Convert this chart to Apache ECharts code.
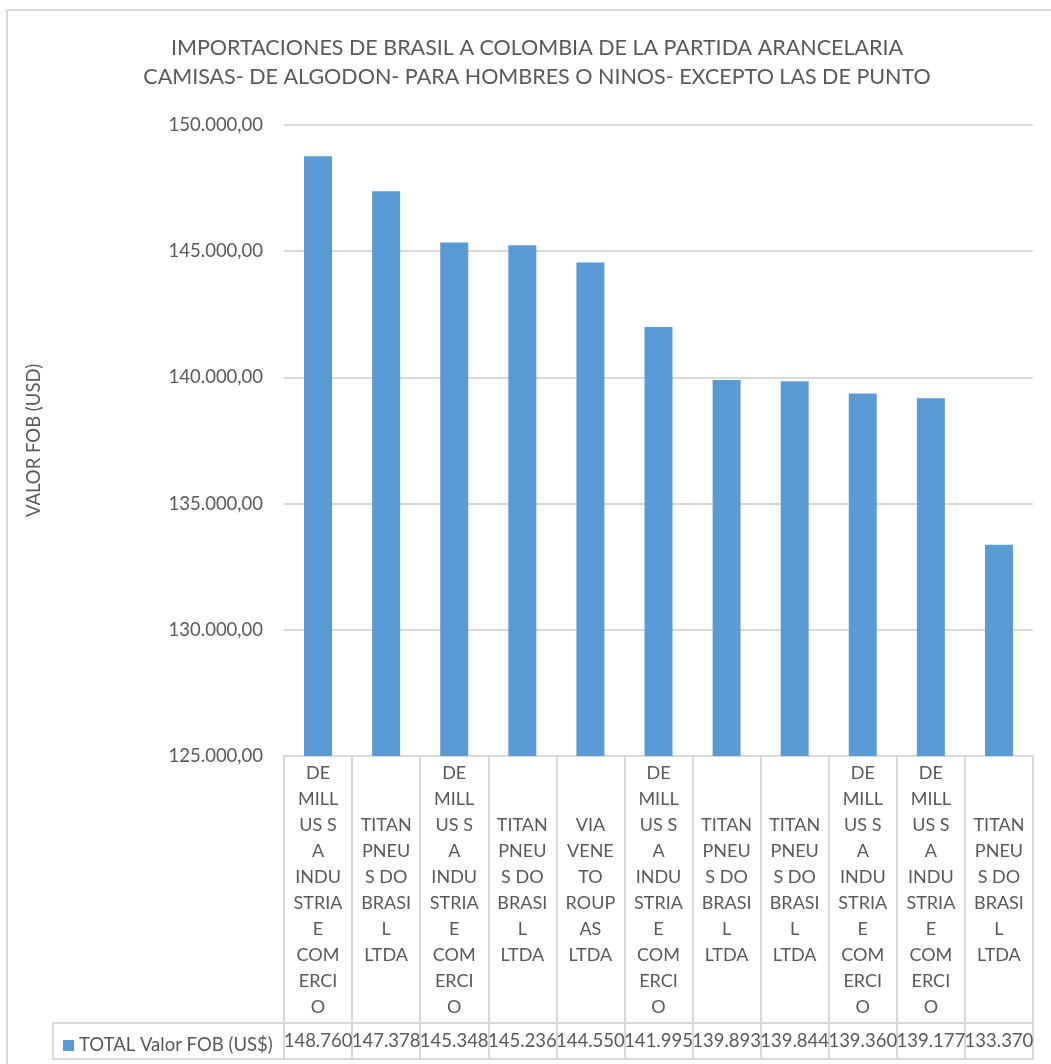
<!DOCTYPE html>
<html>
<head>
<meta charset="utf-8">
<script src="https://cdn.jsdelivr.net/npm/echarts@6/dist/echarts.min.js"></script>
<style>
html,body{margin:0;padding:0;background:#fff;}
#chart{width:1051px;height:1064px;}
</style>
</head>
<body>
<div id="chart"></div>
<script>
const titleLines = [
  'IMPORTACIONES DE BRASIL A COLOMBIA DE LA PARTIDA ARANCELARIA',
  'CAMISAS- DE ALGODON- PARA HOMBRES O NINOS- EXCEPTO LAS DE PUNTO'
];
const categories = [
  'DE\nMILL\nUS S\nA\nINDU\nSTRIA\nE\nCOM\nERCI\nO',
  'TITAN\nPNEU\nS DO\nBRASI\nL\nLTDA',
  'DE\nMILL\nUS S\nA\nINDU\nSTRIA\nE\nCOM\nERCI\nO',
  'TITAN\nPNEU\nS DO\nBRASI\nL\nLTDA',
  'VIA\nVENE\nTO\nROUP\nAS\nLTDA',
  'DE\nMILL\nUS S\nA\nINDU\nSTRIA\nE\nCOM\nERCI\nO',
  'TITAN\nPNEU\nS DO\nBRASI\nL\nLTDA',
  'TITAN\nPNEU\nS DO\nBRASI\nL\nLTDA',
  'DE\nMILL\nUS S\nA\nINDU\nSTRIA\nE\nCOM\nERCI\nO',
  'DE\nMILL\nUS S\nA\nINDU\nSTRIA\nE\nCOM\nERCI\nO',
  'TITAN\nPNEU\nS DO\nBRASI\nL\nLTDA'
];
const seriesName = 'TOTAL Valor FOB (US$)';
const values = [148760, 147378, 145348, 145236, 144550, 141995, 139893, 139844, 139360, 139177, 133370];
const yAxisName = 'VALOR FOB (USD)';
const yMin = 125000, yMax = 150000, yStep = 5000;

function thousands(n) {
  const s = String(Math.round(Math.abs(n)));
  let out = '';
  for (let i = 0; i < s.length; i++) {
    if (i > 0 && (s.length - i) % 3 === 0) out += '.';
    out += s[i];
  }
  return (n < 0 ? '-' : '') + out;
}

const FONT = 'Lato, "Open Sans", sans-serif';
const GREY = '#595959';
const LINE = '#d9d9d9';

const chart = echarts.init(document.getElementById('chart'));
chart.setOption({
  backgroundColor: '#fff',
  animation: false,
  title: {
    text: titleLines.join('\n'),
    left: 532,
    textAlign: 'center',
    top: 29,
    textStyle: { fontFamily: FONT, fontWeight: 400, fontSize: 21.5, color: GREY, lineHeight: 29 }
  },
  legend: {
    data: [seriesName],
    left: 58,
    top: 1031,
    icon: 'rect',
    itemWidth: 11,
    itemHeight: 11,
    itemGap: 0,
    textStyle: { fontFamily: FONT, fontSize: 18.5, color: GREY }
  },
  grid: { left: 284, right: 18, top: 125, bottom: 308, containLabel: false },
  xAxis: [
    {
      type: 'category',
      data: categories,
      axisLine: { show: true, lineStyle: { color: LINE, width: 2 } },
      axisTick: { show: true, interval: 0, length: 303, lineStyle: { color: LINE, width: 2 } },
      axisLabel: {
        interval: 0, margin: 134, verticalAlign: 'middle',
        fontFamily: FONT, fontSize: 18, color: GREY, lineHeight: 26
      }
    },
    {
      type: 'category',
      position: 'bottom',
      offset: 267,
      data: values.map(thousands),
      axisLine: { show: true, lineStyle: { color: LINE, width: 2 } },
      axisTick: { show: false },
      axisLabel: {
        interval: 0, margin: 18, verticalAlign: 'middle',
        fontFamily: FONT, fontSize: 18.5, color: GREY
      }
    }
  ],
  yAxis: {
    type: 'value',
    min: yMin, max: yMax, interval: yStep,
    name: yAxisName,
    nameLocation: 'middle',
    nameGap: 240,
    nameRotate: 90,
    nameTextStyle: { fontFamily: FONT, fontSize: 18.5, color: GREY },
    axisLine: { show: false },
    axisTick: { show: false },
    splitLine: { lineStyle: { color: LINE, width: 2 } },
    axisLabel: {
      margin: 21,
      fontFamily: FONT, fontSize: 18.5, color: GREY,
      formatter: v => thousands(v) + ',00'
    }
  },
  series: [{
    name: seriesName,
    type: 'bar',
    xAxisIndex: 0,
    data: values,
    barWidth: 28,
    itemStyle: { color: '#5b9bd5' }
  }],
  graphic: [
    { type: 'rect', z: 100, shape: { x: 7, y: 10, width: 1100, height: 1100 },
      style: { fill: null, stroke: LINE, lineWidth: 2 }, silent: true },
    { type: 'line', z: 100, shape: { x1: 53, y1: 1023, x2: 284, y2: 1023 }, style: { stroke: LINE, lineWidth: 2 } },
    { type: 'line', z: 100, shape: { x1: 53, y1: 1059, x2: 1034, y2: 1059 }, style: { stroke: LINE, lineWidth: 2 } },
    { type: 'line', z: 100, shape: { x1: 53, y1: 1022, x2: 53, y2: 1060 }, style: { stroke: LINE, lineWidth: 2 } }
  ]
});
</script>
</body>
</html>
